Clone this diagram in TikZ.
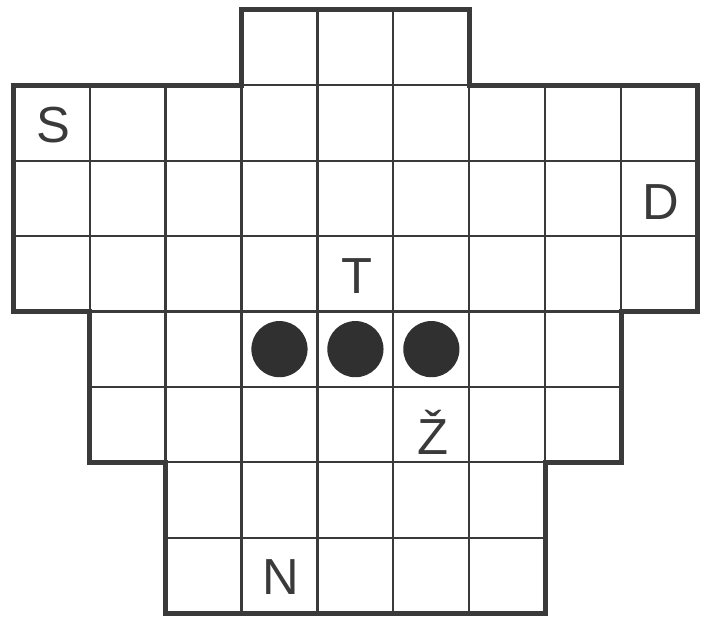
\documentclass[tikz,border=0pt]{standalone}
\usepackage{fontspec}
\setsansfont{Liberation Sans}
\usepackage{xcolor}
\definecolor{InkGray}{HTML}{3A3A3A}
\definecolor{StoneGray}{HTML}{303030}

\begin{document}
\begin{tikzpicture}[x=1cm, y=0.993cm,
  cell/.style={draw=InkGray, line width=0.8pt},
  rim/.style={draw=InkGray, line width=1.9pt, line join=miter},
  letter/.style={font=\sffamily\fontsize{19}{19}\selectfont, text=InkGray, inner sep=0pt},
  stone/.style={circle, fill=StoneGray, minimum size=0.74cm, inner sep=0pt}]
  \useasboundingbox (-0.18,-0.08) rectangle (9.09,8.13);
  % board cells, row/first column/last column
  \foreach \r/\a/\b in {0/3/5, 1/0/8, 2/0/8, 3/0/8, 4/1/7, 5/1/7, 6/2/6, 7/2/6}{
    \foreach \c in {\a,...,\b}
      \draw[cell] (\c,7-\r) rectangle ++(1,1);
  }
  % outer edge of the board
  \draw[rim] (3,8) -- (6,8) -- (6,7) -- (9,7) -- (9,4) -- (8,4) -- (8,2) -- (7,2)
    -- (7,0) -- (2,0) -- (2,2) -- (1,2) -- (1,4) -- (0,4) -- (0,7) -- (3,7) -- cycle;
  % stones
  \foreach \i in {1,2,3}
    \node[stone] (stone\i) at (2.5+\i,3.5) {};
  % letters
  \node[letter] (s) at (0.52,6.47) {S};
  \node[letter] (d) at (8.52,5.45) {D};
  \node[letter] (t) at (4.52,4.47) {T};
  \node[letter] (z) at (5.52,2.4) {Ž};
  \node[letter] (n) at (3.52,0.48) {N};
\end{tikzpicture}
\end{document}
